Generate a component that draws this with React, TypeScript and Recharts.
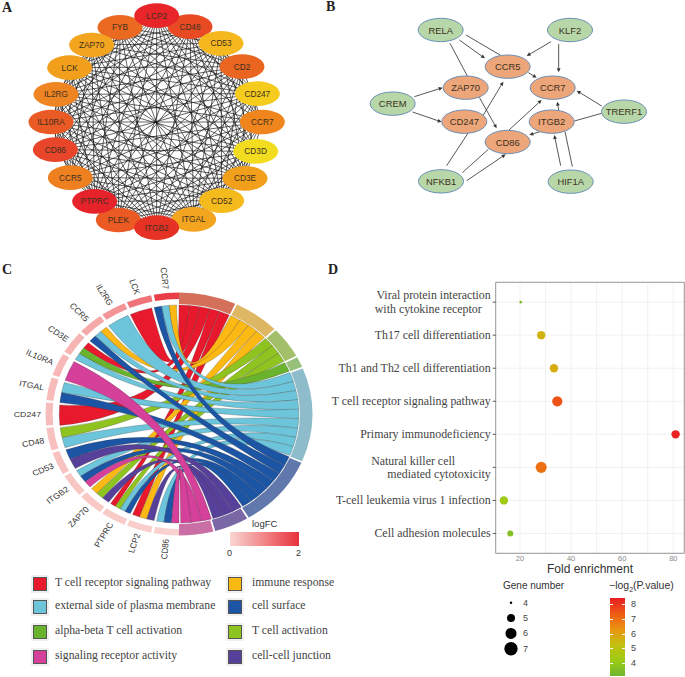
import React from "react";
import {
  Cell,
  CartesianGrid,
  Pie,
  PieChart,
  ReferenceArea,
  ReferenceLine,
  Scatter,
  ScatterChart,
  XAxis,
  YAxis,
  ZAxis,
} from "recharts";

const SANS = '"Liberation Sans", Arial, sans-serif';
const SERIF = '"Liberation Serif", "Times New Roman", serif';

// Panel A: hub gene network, values read in the chart's own units
const hubNames = ["FYB", "CD48", "LCP2", "CD53", "CD2", "CD247", "CCR7", "CD3D", "CD3E", "CD52", "ITGAL", "PLEK", "ITGB2", "PTPRC", "CCR5", "CD86", "IL10RA", "IL2RG", "LCK", "ZAP70"];
const hubX = [360, 570, 470, 663, 726, 772, 787, 767, 735, 665, 581, 355, 470, 284, 211, 166, 153, 168, 209, 275];
const hubY = [82, 80, 47, 130, 200, 281, 366, 454, 535, 602, 658, 660, 683, 604, 533, 449, 366, 283, 203, 135];
const hubColors = ["#ea6a22", "#e84a24", "#e8262a", "#f5b81f", "#ea6520", "#f5cb1e", "#f0851e", "#f2dc20", "#f29f1c", "#f5ba1c", "#f3a51f", "#ea5a22", "#e63224", "#e6222a", "#ef8020", "#e8452a", "#ea5a25", "#ef8422", "#f29f1c", "#f3a51f"];
const hubLinks: [string, string[]][] = [
  ["LCP2", ["CD53", "CD2", "CD247", "CCR7", "CD3D", "CD3E", "CD52", "ITGAL", "ITGB2", "PLEK", "PTPRC", "CCR5", "CD86", "IL10RA", "IL2RG", "LCK", "ZAP70"]],
  ["CD48", ["CD2", "CD247", "CCR7", "CD3D", "CD3E", "CD52", "ITGAL", "ITGB2", "PLEK", "PTPRC", "CCR5", "CD86", "IL10RA", "IL2RG", "LCK", "ZAP70"]],
  ["CD53", ["CCR7", "CD3D", "CD3E", "CD52", "ITGAL", "ITGB2", "PLEK", "PTPRC", "CCR5", "CD86", "IL10RA", "IL2RG", "LCK", "ZAP70", "FYB"]],
  ["CD2", ["CCR7", "CD3E", "CD52", "ITGAL", "ITGB2", "PLEK", "PTPRC", "CCR5", "CD86", "IL10RA", "IL2RG", "LCK", "ZAP70", "FYB"]],
  ["CD247", ["CD3E", "CD52", "ITGAL", "ITGB2", "PLEK", "PTPRC", "CCR5", "CD86", "IL10RA", "IL2RG", "LCK", "ZAP70", "FYB"]],
  ["CCR7", ["CD3E", "CD52", "ITGAL", "ITGB2", "PLEK", "PTPRC", "CCR5", "CD86", "IL10RA", "IL2RG", "LCK", "FYB"]],
  ["CD3D", ["CD52", "ITGAL", "ITGB2", "PLEK", "PTPRC", "CCR5", "CD86", "IL10RA", "IL2RG", "LCK", "ZAP70", "FYB"]],
  ["CD3E", ["CD52", "ITGAL", "ITGB2", "PLEK", "PTPRC", "CCR5", "CD86", "IL10RA", "IL2RG", "LCK", "ZAP70", "FYB"]],
  ["CD52", ["ITGB2", "PLEK", "PTPRC", "CCR5", "CD86", "IL10RA", "IL2RG", "LCK", "ZAP70", "FYB"]],
  ["ITGAL", ["PLEK", "PTPRC", "CCR5", "CD86", "IL10RA", "IL2RG", "LCK", "ZAP70", "FYB"]],
  ["ITGB2", ["PTPRC", "CCR5", "CD86", "IL10RA", "IL2RG", "LCK", "ZAP70", "FYB"]],
  ["PLEK", ["CCR5", "CD86", "IL10RA", "IL2RG", "LCK", "ZAP70", "FYB"]],
  ["PTPRC", ["CD86", "IL10RA", "IL2RG", "LCK", "ZAP70", "FYB"]],
  ["CCR5", ["IL10RA", "IL2RG", "LCK", "ZAP70", "FYB"]],
  ["CD86", ["IL2RG", "LCK", "ZAP70", "FYB"]],
  ["IL10RA", ["LCK", "ZAP70", "FYB"]],
  ["IL2RG", ["ZAP70", "FYB"]],
  ["LCK", ["FYB"]],
];

// Panel B: transcription factor network
const tfNames = ["RELA", "KLF2", "CREM", "TRERF1", "NFKB1", "HIF1A"];
const tfX = [362, 750, 218, 912, 363, 752];
const tfY = [90, 90, 311, 335, 544, 545];
const targetNames = ["CCR5", "ZAP70", "CCR7", "CD247", "ITGB2", "CD86"];
const targetX = [563, 437, 698, 433, 695, 563];
const targetY = [200, 263, 263, 365, 365, 426];
const arrowEdges = [
  [418, 120, 495, 175],
  [693, 125, 620, 168],
  [716, 132, 716, 217],
  [625, 218, 650, 233],
  [283, 290, 368, 263],
  [278, 336, 365, 366],
  [478, 292, 530, 385],
  [490, 345, 550, 245],
  [440, 542, 557, 463],
  [565, 392, 665, 300],
  [660, 395, 628, 405],
  [716, 330, 712, 305],
  [845, 318, 770, 272],
  [722, 497, 703, 405],
];
const plainEdges = [
  [438, 105, 540, 165],
  [390, 130, 442, 228],
  [380, 497, 445, 398],
  [427, 518, 505, 448],
  [845, 340, 763, 363],
  [757, 500, 735, 395],
];

// Panel C: chord of genes and enriched terms
const termNames = ["T cell receptor signaling pathway", "immune response", "T cell activation", "alpha-beta T cell activation", "external side of plasma membrane", "cell surface", "cell-cell junction", "signaling receptor activity"];
const termColors = ["#e8192c", "#fdb913", "#8fc31f", "#6ab42d", "#6cc5da", "#1d55a5", "#574099", "#d5409a"];
const termRingColors = ["#d4705a", "#deb765", "#a2bf6a", "#97c17a", "#8fbccb", "#6078ab", "#7a68a6", "#c96fa5"];
const termGenes = [
  ["LCK", "CD3E", "CD247", "PTPRC", "LCP2"],
  ["CCR7", "CCR5", "ZAP70", "LCP2"],
  ["CD48", "ZAP70", "PTPRC"],
  ["CD3E"],
  ["CCR7", "IL2RG", "CCR5", "CD3E", "ITGAL", "CD48", "ITGB2", "PTPRC", "CD86"],
  ["CCR7", "CCR5", "ITGAL", "CD53", "ITGB2", "PTPRC", "CD86"],
  ["CD53", "ZAP70", "LCP2"],
  ["IL10RA", "ITGB2", "CD86"],
];
const geneNames = ["CD86", "LCP2", "PTPRC", "ZAP70", "ITGB2", "CD53", "CD48", "CD247", "ITGAL", "IL10RA", "CD3E", "CCR5", "IL2RG", "LCK", "CCR7"];
const geneLogFC = [0.06, 0.1, 0.13, 0.16, 0.2, 0.24, 0.27, 0.3, 0.32, 0.36, 0.42, 0.55, 0.8, 1.2, 1.85];
const legendRows = [
  ["T cell receptor signaling pathway", "immune response"],
  ["external side of plasma membrane", "cell surface"],
  ["alpha-beta T cell activation", "T cell activation"],
  ["signaling receptor activity", "cell-cell junction"],
];

// Panel D: KEGG dot plot
const pathwayLabels = [
  ["Viral protein interaction", "with cytokine receptor\u00a0\u00a0\u00a0"],
  ["Th17 cell differentiation"],
  ["Th1 and Th2 cell differentiation"],
  ["T cell receptor signaling pathway"],
  ["Primary immunodeficiency"],
  ["Natural killer cell\u00a0\u00a0\u00a0\u00a0\u00a0\u00a0\u00a0\u00a0\u00a0\u00a0\u00a0\u00a0", "mediated cytotoxicity"],
  ["T-cell leukemia virus 1 infection"],
  ["Cell adhesion molecules"],
];
const foldEnrichment = [20.3, 28.3, 33.3, 34.6, 80.9, 28.3, 13.7, 16.2];
const geneNumber = [4, 5.1, 5.1, 5.7, 5.1, 6, 5.1, 4.5];
const minusLogP = [3.6, 5.8, 5.95, 7.6, 8.3, 7.1, 4.6, 3.9];
const legendSizes = [4, 5, 6, 7];
const colorbarTicks = [8, 7, 6, 5, 4];
const pStops = [3.3, 4.5, 5.5, 6.5, 7.5, 8.4];
const pColors = ["#6eb52f", "#9ccb14", "#c4c010", "#eb9410", "#ee5a14", "#e81c24"];

const hexToRgb = (hex: string) => [1, 3, 5].map((i) => parseInt(hex.slice(i, i + 2), 16));
const mix = (a: string, b: string, t: number) => {
  const ca = hexToRgb(a);
  const cb = hexToRgb(b);
  return `rgb(${ca.map((v, i) => Math.round(v + (cb[i] - v) * t)).join(",")})`;
};
const fcColor = (v: number) => mix("#fad6d2", "#e8323c", v / 2);
const pColor = (v: number) => {
  let i = 0;
  while (i < pStops.length - 2 && v > pStops[i + 1]) i++;
  return mix(pColors[i], pColors[i + 1], Math.min(1, Math.max(0, (v - pStops[i]) / (pStops[i + 1] - pStops[i]))));
};

const hubData = hubNames.map((name, i) => ({ name, x: hubX[i], y: hubY[i], fill: hubColors[i] }));
const tfData = tfNames.map((name, i) => ({ name, x: tfX[i], y: tfY[i], fill: "#b7d7a8" }));
const targetData = targetNames.map((name, i) => ({ name, x: targetX[i], y: targetY[i], fill: "#eda67a" }));
const dotData = pathwayLabels.map((_, i) => ({ rank: i + 1, x: foldEnrichment[i], z: geneNumber[i] }));

// chord layout table, clockwise degrees from the top
const TERM_PAD = 0.8;
const GENE_PAD = 1.2;
const termUnit = (180 - termNames.length * TERM_PAD) / termGenes.flat().length;
const geneUnit = (180 - geneNames.length * GENE_PAD) / geneNames.length;
const termData = termNames.map((name, i) => ({ name, value: termGenes[i].length }));
const geneData = geneNames.map((name) => ({ name, value: 1 }));

const ribbonData = (() => {
  const rows: any[] = [];
  let cursor = 0;
  termGenes.forEach((genes, t) => {
    genes.forEach((gene) => {
      // ribbons of one gene sit in descending term order going clockwise
      const members = termGenes.map((g, k) => (g.includes(gene) ? k : -1)).filter((k) => k >= 0).reverse();
      const gi = geneNames.indexOf(gene);
      const start = 180 + gi * (geneUnit + GENE_PAD);
      const w = geneUnit / members.length;
      const pos = members.indexOf(t);
      rows.push({ name: gene, value: 1, fill: termColors[t], t1: cursor, t2: cursor + termUnit, g1: start + pos * w, g2: start + (pos + 1) * w });
      cursor += termUnit;
    });
    cursor += TERM_PAD;
  });
  return rows;
})();

const Node = (p: any, rx: number, ry: number, stroke: string, fontSize: number) => (
  <g>
    <ellipse cx={p.cx} cy={p.cy} rx={rx} ry={ry} fill={p.payload.fill} stroke={stroke} strokeWidth={stroke === "none" ? 0 : 0.9} />
    <text x={p.cx} y={p.cy} textAnchor="middle" dominantBaseline="central" fontFamily={SANS} fontSize={fontSize} fill="#3c3020">
      {p.payload.name}
    </text>
  </g>
);

const ArrowLine = (p: any) => {
  const a = Math.atan2(p.y2 - p.y1, p.x2 - p.x1);
  const l = 4;
  const w = 1.9;
  const bx = p.x2 - l * Math.cos(a);
  const by = p.y2 - l * Math.sin(a);
  const pts = [
    `${p.x2},${p.y2}`,
    `${bx - w * Math.sin(a)},${by + w * Math.cos(a)}`,
    `${bx + w * Math.sin(a)},${by - w * Math.cos(a)}`,
  ].join(" ");
  return (
    <g>
      <line x1={p.x1} y1={p.y1} x2={bx} y2={by} stroke="#444" strokeWidth={0.9} />
      <polygon points={pts} fill="#333" />
    </g>
  );
};

const RIBBON_R = 109;
const RibbonShape = (p: any) => {
  const { cx, cy, payload } = p;
  const pt = (a: number) => {
    const rad = (a * Math.PI) / 180;
    return `${(cx + RIBBON_R * Math.sin(rad)).toFixed(2)} ${(cy - RIBBON_R * Math.cos(rad)).toFixed(2)}`;
  };
  const arc = `A ${RIBBON_R} ${RIBBON_R} 0 0 1`;
  const d = `M ${pt(payload.t1)} ${arc} ${pt(payload.t2)} Q ${cx} ${cy} ${pt(payload.g1)} ${arc} ${pt(payload.g2)} Q ${cx} ${cy} ${pt(payload.t1)} Z`;
  return <path d={d} fill={payload.fill} stroke="#333" strokeWidth={0.25} />;
};

const GeneLabel = (p: any) => {
  const r = p.outerRadius + 4;
  const rad = (-p.midAngle * Math.PI) / 180;
  const x = p.cx + r * Math.cos(rad);
  const y = p.cy + r * Math.sin(rad);
  const rot = -p.midAngle - 180;
  return (
    <text x={x} y={y} transform={`rotate(${rot} ${x} ${y})`} textAnchor="end" dominantBaseline="central" fontFamily={SANS} fontSize={8} fill="#333">
      {p.name}
    </text>
  );
};

const PathwayTick = (p: any) => {
  const lines = pathwayLabels[p.payload.value - 1];
  const top = p.y - ((lines.length - 1) * 13.6) / 2;
  return (
    <text textAnchor="end" fontFamily={SERIF} fontSize={11.9} fill="#444">
      {lines.map((line, i) => (
        <tspan key={i} x={p.x} y={top + i * 13.6} dominantBaseline="central">
          {line}
        </tspan>
      ))}
    </text>
  );
};

const at = (left: number, top: number, extra: React.CSSProperties = {}): React.CSSProperties => ({ position: "absolute", left, top, ...extra });

const PanelLetter = ({ x, y, children }: any) => (
  <div style={at(x, y, { fontFamily: SERIF, fontWeight: "bold", fontSize: 14, lineHeight: "14px", color: "#222" })}>{children}</div>
);

export default function App() {
  return (
    <div style={at(0, 0, { width: 685, height: 677, background: "#fff", overflow: "hidden" })}>
      <PanelLetter x={2} y={1}>A</PanelLetter>
      <PanelLetter x={326} y={0}>B</PanelLetter>
      <PanelLetter x={2} y={263}>C</PanelLetter>
      <PanelLetter x={328} y={263}>D</PanelLetter>

      {/* A: hub network */}
      <div style={at(0, 0)}>
        <ScatterChart width={320} height={250} margin={{ top: 0, right: 0, bottom: 0, left: 0 }}>
          <XAxis type="number" dataKey="x" domain={[0, 960]} hide allowDataOverflow />
          <YAxis type="number" dataKey="y" domain={[0, 750]} reversed hide allowDataOverflow />
          {hubLinks.flatMap(([from, tos]) =>
            tos.map((to) => {
              const a = hubData[hubNames.indexOf(from)];
              const b = hubData[hubNames.indexOf(to)];
              return (
                <ReferenceLine
                  key={from + to}
                  segment={[{ x: a.x, y: a.y }, { x: b.x, y: b.y }]}
                  stroke="#111"
                  strokeWidth={0.65}
                />
              );
            })
          )}
          <Scatter data={hubData} isAnimationActive={false} shape={(p: any) => Node(p, 22.5, 12.3, "none", 8.3)} />
        </ScatterChart>
      </div>

      {/* B: TF network */}
      <div style={at(320, 0)}>
        <ScatterChart width={365} height={210} margin={{ top: 0, right: 0, bottom: 0, left: 0 }}>
          <XAxis type="number" dataKey="x" domain={[0, 1095]} hide allowDataOverflow />
          <YAxis type="number" dataKey="y" domain={[0, 630]} reversed hide allowDataOverflow />
          {plainEdges.map((e, i) => (
            <ReferenceLine key={"p" + i} segment={[{ x: e[0], y: e[1] }, { x: e[2], y: e[3] }]} stroke="#444" strokeWidth={0.9} />
          ))}
          {arrowEdges.map((e, i) => (
            <ReferenceLine key={"a" + i} segment={[{ x: e[0], y: e[1] }, { x: e[2], y: e[3] }]} shape={ArrowLine} />
          ))}
          <Scatter data={tfData} isAnimationActive={false} shape={(p: any) => Node(p, 22.5, 11.7, "#5f87b5", 9.4)} />
          <Scatter data={targetData} isAnimationActive={false} shape={(p: any) => Node(p, 22.5, 11.7, "#5f87b5", 9.4)} />
        </ScatterChart>
      </div>

      {/* C: chord, stretched sideways like the original figure */}
      <div style={at(18.5, 253.5, { transform: "scaleX(1.099)", transformOrigin: "50% 50%" })}>
        <PieChart width={320} height={320} margin={{ top: 0, right: 0, bottom: 0, left: 0 }}>
          <Pie
            data={ribbonData}
            dataKey="value"
            cx="50%"
            cy="50%"
            innerRadius={0}
            outerRadius={RIBBON_R}
            startAngle={90}
            endAngle={-270}
            isAnimationActive={false}
            shape={RibbonShape}
          />
          <Pie
            data={termData}
            dataKey="value"
            cx="50%"
            cy="50%"
            innerRadius={110}
            outerRadius={121.5}
            startAngle={90}
            endAngle={-90}
            paddingAngle={TERM_PAD}
            stroke="none"
            isAnimationActive={false}
          >
            {termData.map((d, i) => (
              <Cell key={d.name} fill={termRingColors[i]} />
            ))}
          </Pie>
          <Pie
            data={geneData}
            dataKey="value"
            cx="50%"
            cy="50%"
            innerRadius={115}
            outerRadius={121.5}
            startAngle={-90}
            endAngle={-270}
            paddingAngle={GENE_PAD}
            stroke="none"
            isAnimationActive={false}
            label={GeneLabel}
            labelLine={false}
          >
            {geneData.map((d, i) => (
              <Cell key={d.name} fill={fcColor(geneLogFC[i])} />
            ))}
          </Pie>
        </PieChart>
      </div>

      {/* logFC key */}
      <div style={at(252, 518, { fontFamily: SANS, fontSize: 9.5, color: "#333" })}>logFC</div>
      <div style={at(230, 532, { width: 69, height: 14, background: "linear-gradient(to right, #fad6d2, #e8323c)" })} />
      <div style={at(227, 548, { fontFamily: SANS, fontSize: 9, color: "#333" })}>0</div>
      <div style={at(296, 548, { fontFamily: SANS, fontSize: 9, color: "#333" })}>2</div>

      {/* term legend */}
      {legendRows.map((row, r) =>
        row.map((name, c) => {
          const y = [584, 607, 632, 657][r];
          const x = [40, 235][c];
          const color = termColors[termNames.indexOf(name)];
          return (
            <React.Fragment key={name}>
              <div style={at(x - 9, y - 9, { width: 18, height: 18, background: "#f0f0f0" })} />
              <div style={at(x - 7, y - 7, { width: 12, height: 12, background: color, border: "1px solid #555" })} />
              <div style={at([55, 252][c], y - 8, { fontFamily: SERIF, fontSize: 11.7, lineHeight: "14px", color: "#444", whiteSpace: "nowrap" })}>{name}</div>
            </React.Fragment>
          );
        })
      )}

      {/* D: dot plot */}
      <div style={at(330, 272)}>
        <ScatterChart width={355} height={310} margin={{ top: 10.3, right: 0.7, bottom: 0, left: 0 }}>
          <CartesianGrid stroke="#eeeeee" strokeWidth={0.8} />
          <XAxis
            type="number"
            dataKey="x"
            domain={[10.5, 84.3]}
            ticks={[20, 30, 40, 50, 60, 70, 80]}
            interval={0}
            allowDataOverflow
            height={28.7}
            tickLine={false}
            axisLine={false}
            tickMargin={0}
            tick={{ fontSize: 7.5, fill: "#888", fontFamily: SANS, dy: -4 }}
            tickFormatter={(v: number) => (v % 20 === 0 ? String(v) : "")}
          />
          <YAxis
            type="number"
            dataKey="rank"
            domain={[0.4, 8.6]}
            reversed
            ticks={[1, 2, 3, 4, 5, 6, 7, 8]}
            interval={0}
            allowDataOverflow
            width={165.7}
            axisLine={false}
            tickSize={3}
            tickMargin={2}
            tickLine={{ stroke: "#333", strokeWidth: 0.8 }}
            tick={PathwayTick}
          />
          <ZAxis type="number" dataKey="z" domain={[4, 7]} range={[5, 141]} />
          <ReferenceArea x1={10.5} x2={84.3} y1={0.4} y2={8.6} fill="none" stroke="#999" strokeWidth={1} />
          <Scatter data={dotData} isAnimationActive={false}>
            {dotData.map((d, i) => (
              <Cell key={d.rank} fill={pColor(minusLogP[i])} />
            ))}
          </Scatter>
        </ScatterChart>
      </div>
      <div style={at(500, 562, { width: 180, textAlign: "center", fontFamily: SANS, fontSize: 12, lineHeight: "15px", color: "#333" })}>Fold enrichment</div>

      {/* gene number key */}
      <div style={at(503, 579, { fontFamily: SANS, fontSize: 10, lineHeight: "13px", color: "#333" })}>Gene number</div>
      {legendSizes.map((s, i) => (
        <div key={s} style={at(523, [598, 613, 628, 644][i], { fontFamily: SANS, fontSize: 9, lineHeight: "10px", color: "#444" })}>{s}</div>
      ))}
      <div style={at(500, 592)}>
        <ScatterChart width={22} height={66} margin={{ top: 0, right: 0, bottom: 0, left: 0 }}>
          <XAxis type="number" dataKey="x" domain={[0, 22]} hide allowDataOverflow />
          <YAxis type="number" dataKey="i" domain={[-0.7, 3.6]} reversed hide allowDataOverflow />
          <ZAxis type="number" dataKey="z" domain={[4, 7]} range={[5, 141]} />
          <Scatter data={legendSizes.map((z, i) => ({ x: 11, i, z }))} fill="#000" isAnimationActive={false} />
        </ScatterChart>
      </div>

      {/* -log2(P) key */}
      <div style={at(609, 579, { fontFamily: SANS, fontSize: 10.5, lineHeight: "13px", color: "#333", whiteSpace: "nowrap" })}>
        {"\u2212log"}
        <sub style={{ fontSize: 7 }}>2</sub>
        {"(P.value)"}
      </div>
      <div
        style={at(609.7, 598.3, {
          width: 15.3,
          height: 77.4,
          background: `linear-gradient(to top, ${pColors.join(", ")})`,
        })}
      />
      {colorbarTicks.map((v, i) => (
        <React.Fragment key={v}>
          <div style={at(609.7, 604 + i * 14.8, { width: 3, height: 0.7, background: "#fff" })} />
          <div style={at(622, 604 + i * 14.8, { width: 3, height: 0.7, background: "#fff" })} />
          <div style={at(631, 599 + i * 14.8, { fontFamily: SANS, fontSize: 9, lineHeight: "10px", color: "#444" })}>{v}</div>
        </React.Fragment>
      ))}
    </div>
  );
}
